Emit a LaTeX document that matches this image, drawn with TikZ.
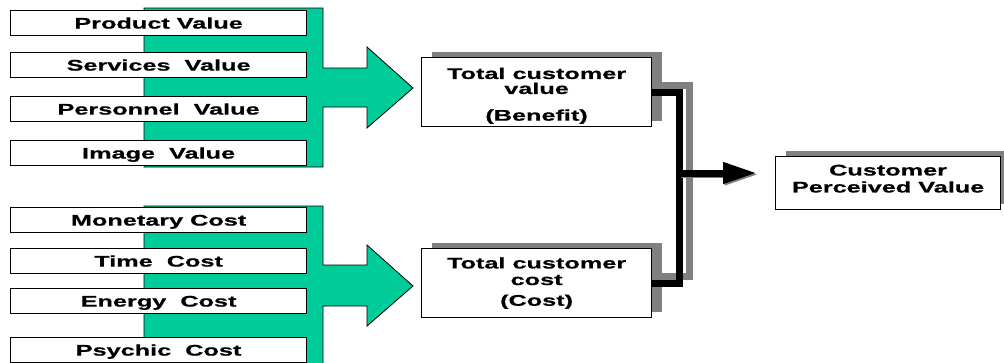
\documentclass[tikz,border=0pt]{standalone}
\usepackage{fontspec}
\setmainfont{Liberation Sans}[FakeStretch=1.64, BoldFeatures={FakeBold=0.6}]
\usetikzlibrary{shadows,arrows.meta}
\definecolor{tealgreen}{RGB}{0,204,153}
\definecolor{shadowgray}{RGB}{128,128,128}
\begin{document}
\begin{tikzpicture}[x=1pt,y=-1pt,
  lbl/.style={font=\fontsize{15.4}{15}\selectfont\bfseries},
  lbox/.style={lbl, draw, fill=white, line width=1.2pt, minimum width=296pt, minimum height=25pt, inner sep=0pt, text height=11pt, text depth=0pt, anchor=north west},
  tbox/.style={lbl, draw, fill=white, line width=1.2pt, minimum width=230pt, minimum height=69pt, inner sep=0pt, align=center, anchor=north west, drop shadow={shadow xshift=10pt, shadow yshift=6pt, fill=shadowgray, opacity=1}},
  greenarrow/.style={fill=tealgreen, draw=black, line width=0.8pt},
  link/.style={line width=7pt, line join=miter}
]
\clip (0,0) rectangle (1004,362);
\fill[white] (0,0) rectangle (1004,362);
% green arrows
\draw[greenarrow] (144,8) -- (323,8) -- (323,68) -- (367,68) -- (367,47) -- (413,88) -- (367,128) -- (367,107) -- (323,107) -- (323,167) -- (144,167) -- cycle;
\draw[greenarrow] (144,206) -- (323,206) -- (323,265) -- (367,265) -- (367,245) -- (413,286) -- (367,326) -- (367,306) -- (323,306) -- (323,375) -- (144,375) -- cycle;
% left boxes
\node[lbox] (pv) at (10,10) {Product Value};
\node[lbox] (sv) at (10,52) {Services~ Value};
\node[lbox] (perv) at (10,96) {Personnel~ Value};
\node[lbox] (iv) at (10,140) {Image~ Value};
\node[lbox] (mc) at (10,207) {Monetary Cost};
\node[lbox] (tc) at (10,248) {Time~ Cost};
\node[lbox] (ec) at (10,288) {Energy~ Cost};
\node[lbox] (pc) at (10,337) {Psychic~ Cost};
% connector shadow
\coordinate (jn) at (679,173);
\coordinate (tip) at (757,173);
\begin{scope}[transform canvas={shift={(10pt,6pt)}}]
\draw[link, shadowgray] (421+230,91.5) -- (679,91.5) -- (679,282.5) -- (421+230,282.5);
\end{scope}
% total boxes
\node[tbox] (vb) at (421,57) {\rule{0pt}{18.6pt}Total customer\\value\\[11.7pt](Benefit)};
\node[tbox] (cb) at (421,248) {Total customer\\[1.6pt]cost\\[5.7pt](Cost)};
\node[tbox, minimum width=225pt, minimum height=53pt] (cpv) at (775,156) {Customer\\[2pt]Perceived Value\rule[-9pt]{0pt}{9pt}};
% black connector
\draw[link] (vb.east) -| (jn) |- (cb.east);
\begin{scope}[transform canvas={shift={(1.5pt,-1.5pt)}}]
\draw[line width=7pt, shadowgray, -{Triangle[length=34pt,width=20pt]}] (jn) -- (tip);
\end{scope}
\draw[line width=7pt, -{Triangle[length=34pt,width=20pt]}] (jn) -- (tip);
\end{tikzpicture}
\end{document}
